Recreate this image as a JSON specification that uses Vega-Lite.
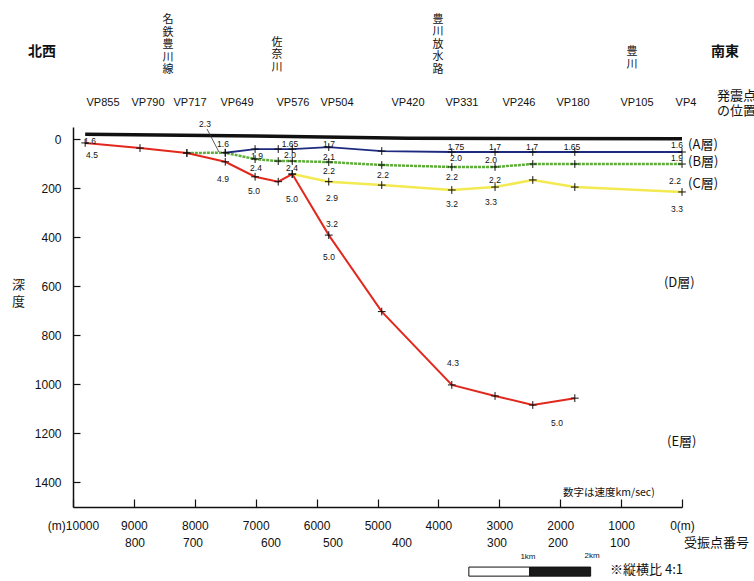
{
  "$schema": "https://vega.github.io/schema/vega-lite/v6.json",
  "width": 609,
  "height": 380,
  "autosize": {"type": "none"},
  "padding": {"left": 73, "top": 127, "right": 72, "bottom": 74},
  "background": "white",
  "config": {
    "view": {"stroke": null},
    "font": "Liberation Sans, Noto Sans CJK JP, sans-serif",
    "text": {"font": "Liberation Sans, Noto Sans CJK JP, sans-serif", "color": "#111"}
  },
  "datasets": {
    "pts": [
      {"s": "black", "d": 9800, "depth": -20},
      {"s": "black", "d": 7000, "depth": -13},
      {"s": "black", "d": 4500, "depth": -4},
      {"s": "black", "d": 0, "depth": -2},
      {"s": "red", "d": 9800, "depth": 15},
      {"s": "red", "d": 8900, "depth": 36},
      {"s": "red", "d": 8130, "depth": 56},
      {"s": "red", "d": 7500, "depth": 92},
      {"s": "red", "d": 7010, "depth": 153},
      {"s": "red", "d": 6630, "depth": 173},
      {"s": "red", "d": 6400, "depth": 142},
      {"s": "red", "d": 5800, "depth": 391},
      {"s": "red", "d": 4930, "depth": 703},
      {"s": "red", "d": 3780, "depth": 1002},
      {"s": "red", "d": 3070, "depth": 1047},
      {"s": "red", "d": 2450, "depth": 1084},
      {"s": "red", "d": 1760, "depth": 1056},
      {"s": "blue", "d": 7500, "depth": 55},
      {"s": "blue", "d": 7010, "depth": 40},
      {"s": "blue", "d": 6630, "depth": 40},
      {"s": "blue", "d": 6400, "depth": 40},
      {"s": "blue", "d": 5800, "depth": 32},
      {"s": "blue", "d": 4930, "depth": 48},
      {"s": "blue", "d": 3780, "depth": 52},
      {"s": "blue", "d": 3070, "depth": 52},
      {"s": "blue", "d": 2450, "depth": 52},
      {"s": "blue", "d": 1760, "depth": 52},
      {"s": "blue", "d": 0, "depth": 52},
      {"s": "green", "d": 8130, "depth": 56},
      {"s": "green", "d": 7500, "depth": 55},
      {"s": "green", "d": 7010, "depth": 81},
      {"s": "green", "d": 6630, "depth": 89},
      {"s": "green", "d": 6400, "depth": 89},
      {"s": "green", "d": 5800, "depth": 93},
      {"s": "green", "d": 4930, "depth": 105},
      {"s": "green", "d": 3780, "depth": 113},
      {"s": "green", "d": 3070, "depth": 113},
      {"s": "green", "d": 2450, "depth": 101},
      {"s": "green", "d": 1760, "depth": 101},
      {"s": "green", "d": 0, "depth": 101},
      {"s": "yellow", "d": 6400, "depth": 142},
      {"s": "yellow", "d": 5800, "depth": 173},
      {"s": "yellow", "d": 4930, "depth": 187},
      {"s": "yellow", "d": 3780, "depth": 207},
      {"s": "yellow", "d": 3070, "depth": 195},
      {"s": "yellow", "d": 2450, "depth": 166},
      {"s": "yellow", "d": 1760, "depth": 195},
      {"s": "yellow", "d": 0, "depth": 215}
    ],
    "vel": [
      {"t": "1.6", "d": 9721, "depth": 7},
      {"t": "4.5", "d": 9688, "depth": 64},
      {"t": "2.3", "d": 7833, "depth": -62},
      {"t": "1.6", "d": 7537, "depth": 19},
      {"t": "1.9", "d": 6979, "depth": 68},
      {"t": "1.65", "d": 6437, "depth": 19},
      {"t": "2.0", "d": 6437, "depth": 64},
      {"t": "2.4", "d": 6995, "depth": 117},
      {"t": "2.4", "d": 6404, "depth": 117},
      {"t": "4.9", "d": 7537, "depth": 162},
      {"t": "5.0", "d": 7028, "depth": 211},
      {"t": "5.0", "d": 6404, "depth": 244},
      {"t": "1.7", "d": 5797, "depth": 19},
      {"t": "2.1", "d": 5797, "depth": 72},
      {"t": "2.2", "d": 5797, "depth": 129},
      {"t": "2.9", "d": 5747, "depth": 240},
      {"t": "3.2", "d": 5747, "depth": 346},
      {"t": "5.0", "d": 5797, "depth": 480},
      {"t": "2.2", "d": 4910, "depth": 146},
      {"t": "1.75", "d": 3711, "depth": 32},
      {"t": "2.0", "d": 3711, "depth": 76},
      {"t": "2.2", "d": 3777, "depth": 154},
      {"t": "3.2", "d": 3777, "depth": 264},
      {"t": "1.7", "d": 3071, "depth": 32},
      {"t": "2.0", "d": 3137, "depth": 85},
      {"t": "2.2", "d": 3071, "depth": 166},
      {"t": "3.3", "d": 3137, "depth": 256},
      {"t": "1.7", "d": 2463, "depth": 32},
      {"t": "1.65", "d": 1807, "depth": 32},
      {"t": "1.6", "d": 82, "depth": 23},
      {"t": "1.9", "d": 82, "depth": 76},
      {"t": "2.2", "d": 115, "depth": 170},
      {"t": "3.3", "d": 82, "depth": 284},
      {"t": "4.3", "d": 3760, "depth": 913},
      {"t": "5.0", "d": 2053, "depth": 1157}
    ],
    "ann": [
      {"g": "vp", "t": "VP855", "d": 9507, "depth": -148},
      {"g": "vp", "t": "VP790", "d": 8768, "depth": -148},
      {"g": "vp", "t": "VP717", "d": 8079, "depth": -148},
      {"g": "vp", "t": "VP649", "d": 7307, "depth": -148},
      {"g": "vp", "t": "VP576", "d": 6388, "depth": -148},
      {"g": "vp", "t": "VP504", "d": 5665, "depth": -148},
      {"g": "vp", "t": "VP420", "d": 4499, "depth": -148},
      {"g": "vp", "t": "VP331", "d": 3613, "depth": -148},
      {"g": "vp", "t": "VP246", "d": 2677, "depth": -148},
      {"g": "vp", "t": "VP180", "d": 1790, "depth": -148},
      {"g": "vp", "t": "VP105", "d": 739, "depth": -148},
      {"g": "vp", "t": "VP4", "d": -65, "depth": -148},
      {"g": "rcv", "t": "800", "d": 8982, "depth": 1647},
      {"g": "rcv", "t": "700", "d": 8030, "depth": 1647},
      {"g": "rcv", "t": "600", "d": 6749, "depth": 1647},
      {"g": "rcv", "t": "500", "d": 5731, "depth": 1647},
      {"g": "rcv", "t": "400", "d": 4598, "depth": 1647},
      {"g": "rcv", "t": "300", "d": 3038, "depth": 1647},
      {"g": "rcv", "t": "200", "d": 2036, "depth": 1647},
      {"g": "rcv", "t": "100", "d": 1018, "depth": 1647},
      {"g": "big", "t": "北西", "d": 10509, "depth": -356},
      {"g": "big", "t": "南東", "d": -706, "depth": -356},
      {"g": "vert", "t": "名\n鉄\n豊\n川\n線", "d": 8440, "depth": -510},
      {"g": "vert", "t": "佐\n奈\n川", "d": 6650, "depth": -418},
      {"g": "vert", "t": "豊\n川\n放\n水\n路", "d": 4007, "depth": -512},
      {"g": "vert", "t": "豊\n川", "d": 820, "depth": -380},
      {"g": "left", "t": "発震点\nの位置", "d": -575, "depth": -175},
      {"g": "left", "t": "(A層)", "d": -100, "depth": 23},
      {"g": "left", "t": "(B層)", "d": -100, "depth": 93},
      {"g": "left", "t": "(C層)", "d": -100, "depth": 183},
      {"g": "left", "t": "(D層)", "d": 296, "depth": 586},
      {"g": "left", "t": "(E層)", "d": 246, "depth": 1235},
      {"g": "left", "t": "受振点番号", "d": -33, "depth": 1647},
      {"g": "left", "t": "※縦横比 4:1", "d": 1182, "depth": 1757},
      {"g": "note", "t": "数字は速度km/sec)", "d": 1954, "depth": 1443},
      {"g": "km", "t": "1km", "d": 2529, "depth": 1704},
      {"g": "km", "t": "2km", "d": 1478, "depth": 1700}
    ]
  },
  "layer": [
    {
      "data": {"name": "pts"},
      "transform": [{"filter": "datum.s == 'black'"}],
      "mark": {"type": "line", "color": "#111", "strokeWidth": 3.5},
      "encoding": {
        "x": {
          "field": "d", "type": "quantitative",
          "scale": {"domain": [0, 10000], "reverse": true, "nice": false, "zero": false},
          "axis": {
            "orient": "bottom",
            "values": [0, 500, 1000, 1500, 2000, 2500, 3000, 3500, 4000, 4500, 5000, 5500, 6000, 6500, 7000, 7500, 8000, 8500, 9000, 9500, 10000],
            "format": "d",
            "labelExpr": "datum.value % 1000 != 0 ? '' : (datum.value == 10000 ? '(m)10000' : (datum.value == 0 ? '0(m)' : datum.label))",
            "title": null,
            "grid": false,
            "domainColor": "#111",
            "domainWidth": 1.5,
            "tickColor": "#111",
            "tickWidth": 1.2,
            "tickSize": {"condition": {"test": "datum.value % 1000 == 0", "value": -8}, "value": -5},
            "labelPadding": 21,
            "labelFontSize": 12,
            "labelColor": "#111",
            "labelFont": "Liberation Sans, sans-serif",
            "labelOverlap": false,
            "labelFlush": false
          }
        },
        "y": {
          "field": "depth", "type": "quantitative",
          "scale": {"domain": [-50, 1500], "reverse": true, "nice": false, "zero": false},
          "axis": {
            "orient": "left",
            "values": [0, 100, 200, 300, 400, 500, 600, 700, 800, 900, 1000, 1100, 1200, 1300, 1400],
            "format": "d",
            "labelExpr": "datum.value % 200 != 0 ? '' : datum.label",
            "grid": false,
            "domainColor": "#111",
            "domainWidth": 1.5,
            "tickColor": "#111",
            "tickWidth": 1.2,
            "tickSize": {"condition": {"test": "datum.value % 200 == 0", "value": -7}, "value": -4},
            "labelPadding": 19,
            "labelFontSize": 12,
            "labelColor": "#111",
            "labelFont": "Liberation Sans, sans-serif",
            "labelOverlap": false,
            "labelFlush": false,
            "title": ["深", "度"],
            "titleAngle": 0,
            "titleAlign": "center",
            "titleBaseline": "top",
            "titleX": -55,
            "titleY": 151,
            "titleLineHeight": 17,
            "titleFontSize": 13,
            "titleFontWeight": "normal",
            "titleColor": "#222",
            "titleFont": "Noto Sans CJK JP"
          }
        }
      }
    },
    {
      "data": {"name": "pts"},
      "transform": [{"filter": "datum.s == 'yellow'"}],
      "mark": {"type": "line", "color": "#f3ea52", "strokeWidth": 2.5},
      "encoding": {"x": {"field": "d", "type": "quantitative"}, "y": {"field": "depth", "type": "quantitative"}}
    },
    {
      "data": {"name": "pts"},
      "transform": [{"filter": "datum.s == 'green'"}],
      "mark": {"type": "line", "color": "#5fae3c", "strokeWidth": 2.5, "strokeDash": [3, 1]},
      "encoding": {"x": {"field": "d", "type": "quantitative"}, "y": {"field": "depth", "type": "quantitative"}}
    },
    {
      "data": {"name": "pts"},
      "transform": [{"filter": "datum.s == 'blue'"}],
      "mark": {"type": "line", "color": "#1d2a80", "strokeWidth": 1.8},
      "encoding": {"x": {"field": "d", "type": "quantitative"}, "y": {"field": "depth", "type": "quantitative"}}
    },
    {
      "data": {"name": "pts"},
      "transform": [{"filter": "datum.s == 'red'"}],
      "mark": {"type": "line", "color": "#e2271c", "strokeWidth": 2},
      "encoding": {"x": {"field": "d", "type": "quantitative"}, "y": {"field": "depth", "type": "quantitative"}}
    },
    {
      "data": {"name": "pts"},
      "transform": [{"filter": "datum.s != 'black'"}],
      "mark": {"type": "point", "shape": "M-1,0H1M0,-1V1", "size": 60, "filled": false, "stroke": "#111", "strokeWidth": 1, "opacity": 1},
      "encoding": {"x": {"field": "d", "type": "quantitative"}, "y": {"field": "depth", "type": "quantitative"}}
    },
    {
      "data": {"values": [{"d": 7800, "depth": -42, "d2": 7603, "depth2": 52}]},
      "mark": {"type": "rule", "color": "#333", "strokeWidth": 0.8},
      "encoding": {
        "x": {"field": "d", "type": "quantitative"},
        "x2": {"field": "d2"},
        "y": {"field": "depth", "type": "quantitative"},
        "y2": {"field": "depth2"}
      }
    },
    {
      "data": {"name": "vel"},
      "mark": {"type": "text", "fontSize": 8.5, "align": "center", "baseline": "middle", "font": "Liberation Sans, sans-serif"},
      "encoding": {"x": {"field": "d", "type": "quantitative"}, "y": {"field": "depth", "type": "quantitative"}, "text": {"field": "t"}}
    },
    {
      "data": {"name": "ann"},
      "transform": [{"filter": "datum.g == 'vp'"}],
      "mark": {"type": "text", "fontSize": 11, "align": "center", "baseline": "middle", "font": "Liberation Sans, sans-serif"},
      "encoding": {"x": {"field": "d", "type": "quantitative"}, "y": {"field": "depth", "type": "quantitative"}, "text": {"field": "t"}}
    },
    {
      "data": {"name": "ann"},
      "transform": [{"filter": "datum.g == 'rcv'"}],
      "mark": {"type": "text", "fontSize": 12, "align": "center", "baseline": "middle", "font": "Liberation Sans, sans-serif"},
      "encoding": {"x": {"field": "d", "type": "quantitative"}, "y": {"field": "depth", "type": "quantitative"}, "text": {"field": "t"}}
    },
    {
      "data": {"name": "ann"},
      "transform": [{"filter": "datum.g == 'big'"}],
      "mark": {"type": "text", "fontSize": 14, "fontWeight": "bold", "align": "center", "baseline": "middle", "font": "Noto Sans CJK JP"},
      "encoding": {"x": {"field": "d", "type": "quantitative"}, "y": {"field": "depth", "type": "quantitative"}, "text": {"field": "t"}}
    },
    {
      "data": {"name": "ann"},
      "transform": [{"filter": "datum.g == 'vert'"}],
      "mark": {"type": "text", "fontSize": 11, "lineHeight": 12.5, "lineBreak": "\n", "align": "center", "baseline": "top", "font": "Noto Sans CJK JP"},
      "encoding": {"x": {"field": "d", "type": "quantitative"}, "y": {"field": "depth", "type": "quantitative"}, "text": {"field": "t"}}
    },
    {
      "data": {"name": "ann"},
      "transform": [{"filter": "datum.g == 'left'"}],
      "mark": {"type": "text", "fontSize": 13, "lineHeight": 15, "lineBreak": "\n", "align": "left", "baseline": "middle", "font": "Noto Sans CJK JP"},
      "encoding": {"x": {"field": "d", "type": "quantitative"}, "y": {"field": "depth", "type": "quantitative"}, "text": {"field": "t"}}
    },
    {
      "data": {"name": "ann"},
      "transform": [{"filter": "datum.g == 'note'"}],
      "mark": {"type": "text", "fontSize": 10.5, "align": "left", "baseline": "middle", "font": "Noto Sans CJK JP"},
      "encoding": {"x": {"field": "d", "type": "quantitative"}, "y": {"field": "depth", "type": "quantitative"}, "text": {"field": "t"}}
    },
    {
      "data": {"name": "ann"},
      "transform": [{"filter": "datum.g == 'km'"}],
      "mark": {"type": "text", "fontSize": 8, "align": "center", "baseline": "middle", "font": "Liberation Sans, sans-serif"},
      "encoding": {"x": {"field": "d", "type": "quantitative"}, "y": {"field": "depth", "type": "quantitative"}, "text": {"field": "t"}}
    },
    {
      "data": {"values": [
        {"part": "w", "d": 3500, "d2": 2500, "depth": 1745, "depth2": 1782},
        {"part": "k", "d": 2500, "d2": 1500, "depth": 1745, "depth2": 1782}
      ]},
      "mark": {"type": "rect", "stroke": "#111", "strokeWidth": 1},
      "encoding": {
        "x": {"field": "d", "type": "quantitative"},
        "x2": {"field": "d2"},
        "y": {"field": "depth", "type": "quantitative"},
        "y2": {"field": "depth2"},
        "fill": {"field": "part", "type": "nominal", "scale": {"domain": ["w", "k"], "range": ["#ffffff", "#1a1a1a"]}, "legend": null}
      }
    }
  ]
}
